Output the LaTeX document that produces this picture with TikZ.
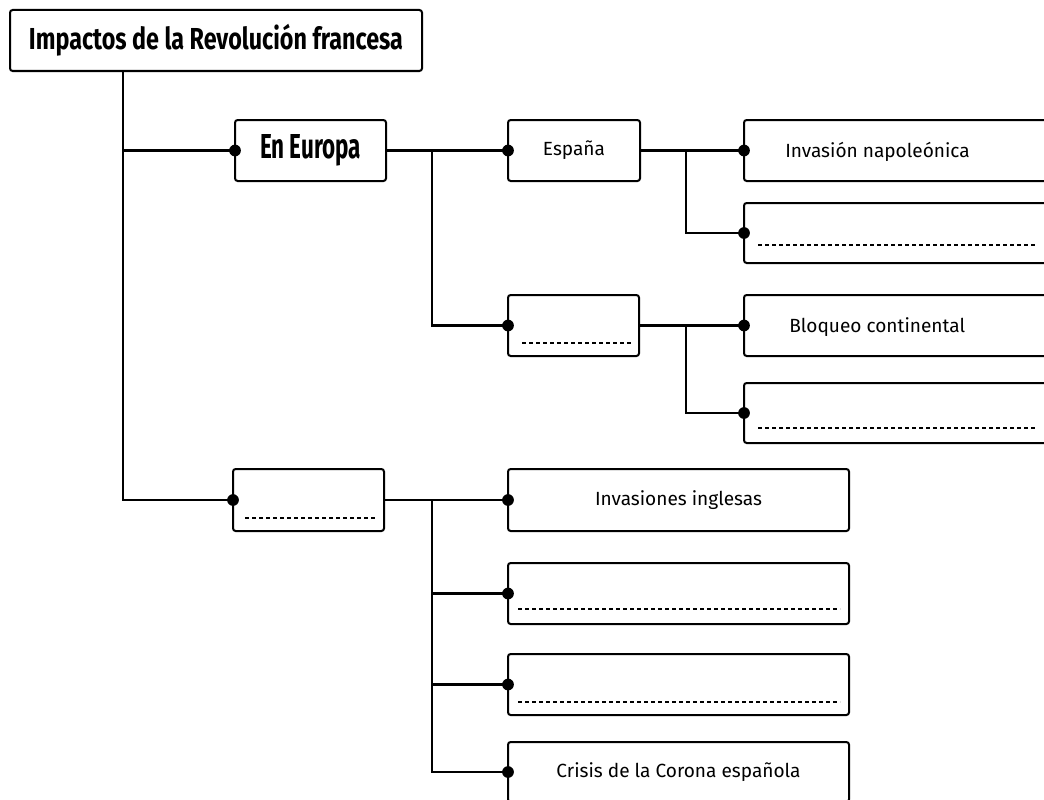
\documentclass[tikz,border=0pt]{standalone}
\usepackage{fontspec}
\setmainfont{Fira Sans}
\usepackage{graphicx}
\begin{document}
\begin{tikzpicture}[x=0.75pt,y=-0.75pt,
  bx/.style 2 args={draw=black, line width=1.5pt, rounded corners=2pt, fill=white,
     inner sep=0pt, outer sep=0pt, minimum width=#1*0.75pt, minimum height=#2*0.75pt,
     font=\fontsize{14.3}{17}\selectfont},
  conn/.style={line width=2.2pt, line cap=rect},
  dashline/.style={line width=0.8pt, dash pattern=on 3pt off 2.25pt},
  lbl/.style={inner sep=0pt, font=\fontsize{14.3}{17}\selectfont},
  dotc/.style={fill=black}]
\useasboundingbox (0,0) rectangle (1044,799);
\fill[white] (0,0) rectangle (1044,799);
\clip (0,0) rectangle (1044,799);

% boxes
\node[bx={412}{61}] (T) at (216,40.5) {\resizebox{280.5pt}{19pt}{\bfseries Impactos de la Revolución francesa}};
\node[bx={151}{61}] (EU) at (310.5,150.5) {\resizebox{75.75pt}{18pt}{\bfseries En Europa}};
\node[bx={151}{62}] (AM) at (308.5,500) {};
\node[bx={132}{61}] (ES) at (574,150.5) {España};
\node[bx={131}{61}] (B2) at (573.5,325.5) {};
\node[bx={316}{61}] (IN) at (902,150.5) {};
\node[bx={316}{60}] (E2) at (902,233) {};
\node[bx={316}{61}] (BC) at (902,325.5) {};
\node[bx={316}{60}] (E3) at (902,413) {};
\node[bx={341}{62}] (II) at (678.5,500) {Invasiones inglesas};
\node[bx={341}{61}] (E4) at (678.5,593.5) {};
\node[bx={341}{61}] (E5) at (678.5,684.5) {};
\node[bx={341}{60}] (CC) at (678.5,772) {Crisis de la Corona española};

\node[lbl, anchor=west] (INt) at (785,152) {Invasión napoleónica};
\node[lbl, anchor=west] (BCt) at (789,327) {Bloqueo continental};

% dashed blanks
\draw[dashline] ([shift={(14,-18)}]E2.south west) -- ([shift={(293,-18)}]E2.south west);
\draw[dashline] ([shift={(14,-15)}]E3.south west) -- ([shift={(293,-15)}]E3.south west);
\draw[dashline] ([shift={(14,-13)}]B2.south west) -- ([shift={(123,-13)}]B2.south west);
\draw[dashline] ([shift={(12,-13)}]AM.south west) -- ([shift={(143,-13)}]AM.south west);
\draw[dashline] ([shift={(10,-15)}]E4.south west) -- ([shift={(332,-15)}]E4.south west);
\draw[dashline] ([shift={(10,-13)}]E5.south west) -- ([shift={(332,-13)}]E5.south west);

% junction columns
\coordinate (k0) at (123,0);
\coordinate (k1) at (432,0);
\coordinate (k2) at (686,0);

% connectors
\draw[conn] (k0 |- T.south) |- (AM.west);
\draw[conn] (k0 |- EU.west) -- (EU.west);
\draw[conn] (EU.east) -- (ES.west);
\draw[conn] (k1 |- EU.east) |- (B2.west);
\draw[conn] (ES.east) -- (IN.west);
\draw[conn] (k2 |- ES.east) |- (E2.west);
\draw[conn] (B2.east) -- (BC.west);
\draw[conn] (k2 |- B2.east) |- (E3.west);
\draw[conn] (AM.east) -- (II.west);
\draw[conn] (k1 |- AM.east) |- (CC.west);
\draw[conn] (k1 |- E4.west) -- (E4.west);
\draw[conn] (k1 |- E5.west) -- (E5.west);

% dots
\foreach \n in {EU,AM,ES,B2,IN,E2,BC,E3,II,E4,E5,CC}
  \fill[dotc] (\n.west) circle[radius=4.4pt];
\end{tikzpicture}
\end{document}
